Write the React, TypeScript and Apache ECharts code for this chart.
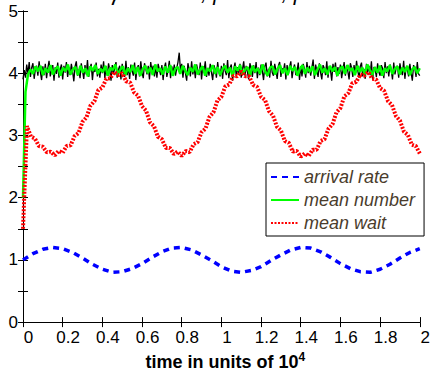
import React, { useEffect, useRef } from "react";
import * as echarts from "echarts";

const T_MAX = 2;

const arrivalRate = [
  1.0, 1.1, 1.17, 1.2, 1.18, 1.12, 1.03, 0.93, 0.85, 0.8,
  0.81, 0.86, 0.94, 1.04, 1.13, 1.19, 1.2, 1.16, 1.08, 0.99,
  0.89, 0.82, 0.8, 0.83, 0.89, 0.99, 1.08, 1.16, 1.2, 1.19,
  1.13, 1.04, 0.94, 0.86, 0.81, 0.8, 0.85, 0.93, 1.03, 1.12,
  1.18,
];

const meanWait = [
  1.5, 3.15, 2.98, 2.95, 2.83, 2.82, 2.73, 2.74, 2.68, 2.75,
  2.72, 2.83, 2.84, 2.99, 3.04, 3.22, 3.29, 3.48, 3.55, 3.73,
  3.77, 3.91, 3.92, 4.02, 3.97, 4.0, 3.87, 3.85, 3.69, 3.64,
  3.47, 3.4, 3.21, 3.15, 2.98, 2.94, 2.8, 2.8, 2.7, 2.74,
  2.67, 2.75, 2.73, 2.86, 2.89, 3.05, 3.11, 3.3, 3.37, 3.56,
  3.62, 3.79, 3.82, 3.96, 3.95, 4.03, 3.95, 3.95, 3.81, 3.78,
  3.62, 3.57, 3.39, 3.32, 3.14, 3.08, 2.91, 2.88, 2.74, 2.75,
  2.66, 2.71, 2.67, 2.77, 2.77, 2.91, 2.94, 3.11, 3.18, 3.37,
  3.44, 3.63, 3.68, 3.84, 3.86, 3.98, 3.96, 4.02, 3.91, 3.9,
  3.76, 3.72, 3.55, 3.49, 3.31, 3.24, 3.06, 3.01, 2.85, 2.83,
  2.71,
];

const meanNumber = [
  2.0, 3.7, 3.98, 4.06, 3.99, 4.11, 4.03, 4.12, 3.97, 4.08, 4.01, 4.13, 3.98, 4.07, 4.11, 3.96,
  4.09, 4.03, 4.14, 3.98, 4.06, 4.1, 3.97, 4.12, 4.01, 4.08, 3.95, 4.11, 4.04, 4.13, 3.99, 4.07,
  4.02, 4.12, 3.96, 4.09, 4.05, 4.14, 3.98, 4.06, 4.11, 3.97, 4.08, 4.02, 4.13, 3.99, 4.1, 3.96,
  4.07, 4.12, 4.0, 4.09, 3.97, 4.14, 4.03, 4.08, 3.98, 4.11, 4.01, 4.13, 3.96, 4.07, 4.1, 3.99,
  4.12, 4.04, 3.97, 4.09, 4.02, 4.14, 3.98, 4.06, 4.11, 3.96, 4.08, 4.03, 4.13, 3.99, 4.1, 3.97,
  4.07, 4.12, 4.01, 4.09, 3.95, 4.11, 4.04, 4.13, 3.98, 4.06, 4.1, 3.97, 4.12, 4.02, 4.08, 3.99,
  4.14, 4.03, 3.96, 4.09, 4.11, 3.98, 4.07, 4.13, 4.0, 4.08, 3.97, 4.12, 4.04, 4.1, 3.96, 4.07,
  4.13, 3.99, 4.09, 4.02, 4.11, 3.97, 4.06, 4.14, 4.01, 4.08, 3.98, 4.12, 4.03, 4.1, 3.96, 4.07,
  4.11, 3.99, 4.13, 4.04, 4.08, 3.97, 4.12, 4.02, 4.09, 3.98, 4.14, 4.05, 3.97, 4.1, 4.01, 4.12,
  3.96, 4.08, 4.03, 4.13, 3.99, 4.07, 4.11, 3.98, 4.09, 4.02, 4.12, 3.97, 4.06, 4.1, 4.0, 4.08,
];

const sampledNumber = [
  3.9, 4.05, 3.93, 4.14, 3.99, 4.18, 3.94, 4.09, 4.16, 3.91, 4.07, 4.12, 3.96, 4.19, 4.02, 3.89,
  4.11, 3.97, 4.15, 3.92, 4.08, 4.2, 3.95, 4.04, 4.13, 3.88, 4.1, 3.99, 4.17, 3.93, 4.06, 4.14,
  3.9, 4.12, 4.01, 4.18, 3.94, 4.09, 3.97, 4.15, 4.03, 3.87, 4.11, 4.19, 3.96, 4.06, 3.92, 4.16,
  4.04, 3.91, 4.13, 3.98, 4.21, 3.94, 4.08, 4.15, 3.89, 4.1, 4.02, 4.17, 3.95, 4.07, 3.93, 4.14,
  4.0, 4.19, 3.92, 4.11, 3.96, 4.16, 4.05, 3.88, 4.13, 3.99, 4.09, 4.18, 3.93, 4.06, 4.12, 3.9,
  4.15, 4.02, 3.94, 4.2, 3.97, 4.1, 3.91, 4.14, 4.04, 3.96, 4.17, 3.89, 4.08, 4.13, 3.95, 4.19,
  4.01, 3.92, 4.16, 4.07, 3.98, 4.12, 3.9, 4.18, 4.03, 4.12, 3.95, 4.1, 3.93, 4.15, 4.06, 3.97,
  4.13, 3.89, 4.09, 4.17, 3.94, 4.05, 4.2, 3.92, 4.11, 3.99, 4.14, 3.96, 4.08, 4.18, 4.33, 4.04,
  4.15, 3.93, 4.12, 4.0, 3.88, 4.16, 4.07, 3.95, 4.19, 3.98, 4.1, 3.92, 4.14, 4.05, 3.97, 4.17,
  3.9, 4.11, 4.03, 4.19, 3.94, 4.08, 3.96, 4.15, 4.01, 3.89, 4.13, 4.06, 3.93, 4.18, 4.02, 3.95,
  4.12, 3.91, 4.16, 4.04, 3.97, 4.21, 3.92, 4.09, 4.14, 3.88, 4.07, 4.17, 3.95, 4.1, 3.99, 4.15,
  3.93, 4.06, 4.19, 3.96, 4.12, 4.02, 3.9, 4.16, 4.08, 3.94, 4.13, 4.0, 4.18, 3.92, 4.09, 3.97,
  4.14, 4.04, 3.89, 4.11, 4.17, 3.95, 4.07, 3.93, 4.2, 4.01, 3.96, 4.15, 4.05, 3.91, 4.12, 4.18,
  3.94, 4.08, 4.02, 4.16, 3.9, 4.13, 3.98, 4.1, 4.19, 3.92, 4.06, 4.14, 3.97, 4.03, 4.17, 3.89,
  4.11, 3.95, 4.15, 4.07, 3.93, 4.18, 4.0, 4.12, 3.96, 4.09, 4.22, 3.91, 4.14, 4.04, 3.94, 4.16,
  4.01, 3.9, 4.13, 4.08, 3.97, 4.19, 3.93, 4.11, 4.05, 3.88, 4.15, 4.02, 4.17, 3.95, 4.1, 3.99,
  4.14, 3.92, 4.06, 4.18, 3.96, 4.12, 4.03, 3.9, 4.16, 4.09, 3.94, 4.13, 3.98, 4.2, 4.04, 3.93,
  4.11, 4.17, 3.95, 4.07, 3.91, 4.15, 4.01, 4.12, 3.97, 4.19, 3.89, 4.1, 4.06, 3.94, 4.16, 4.02,
  3.96, 4.13, 4.08, 3.92, 4.18, 4.0, 4.11, 3.95, 4.14, 4.05, 3.9, 4.17, 3.98, 4.09, 4.12, 3.93,
  4.16, 4.03, 3.97, 4.2, 3.91, 4.1, 4.06, 3.95, 4.15, 4.01, 3.88, 4.13, 4.08, 3.94, 4.18, 3.99,
  3.96,
];

const legendNames = ["arrival rate", "mean number", "mean wait"];
const titleText = "γ = 0.001, β = 0.2, ρ = 0.8";
const xAxisTitle = "time in units of 10{sup|4}";

function toPairs(vals: number[]): number[][] {
  return vals.map((v, i) => [(i * T_MAX) / (vals.length - 1), v]);
}

const FONT = "Liberation Sans";

export default function App() {
  const ref = useRef<HTMLDivElement>(null);
  useEffect(() => {
    if (!ref.current) return;
    const chart = echarts.init(ref.current, undefined, { renderer: "svg" });
    const axisLine = { show: true, lineStyle: { color: "#000", width: 1 } };
    const tick = { show: true, inside: true, length: 5, lineStyle: { color: "#000" } };
    chart.setOption({
      animation: false,
      backgroundColor: "#fff",
      textStyle: { fontFamily: FONT },
      grid: { left: 23, right: 8, top: 11, bottom: 52, containLabel: false },
      graphic: [
        {
          type: "text",
          x: 236,
          y: -19,
          style: {
            text: titleText,
            x: 0,
            y: 0,
            align: "center",
            verticalAlign: "top",
            font: `italic 22px ${FONT}`,
            fill: "#000",
          },
          z: 100,
        },
      ],
      legend: {
        data: legendNames,
        orient: "vertical",
        left: 266,
        top: 163,
        padding: [5, 9, 4, 4],
        itemGap: 5,
        itemWidth: 28,
        itemHeight: 12,
        borderColor: "#000",
        borderWidth: 1,
        backgroundColor: "#fff",
        itemStyle: { opacity: 0 },
        textStyle: {
          fontFamily: FONT,
          fontStyle: "italic",
          fontSize: 18,
          color: "#4a3c2c",
        },
      },
      xAxis: [
        {
          type: "value",
          min: 0,
          max: 2,
          interval: 0.2,
          position: "bottom",
          axisLine,
          axisTick: tick,
          splitLine: { show: false },
          axisLabel: {
            margin: 7,
            fontSize: 17,
            color: "#000",
            fontFamily: FONT,
            padding: [0, 0, 0, 11],
            formatter: (v: number) => String(Math.round(v * 10) / 10),
          },
          name: xAxisTitle,
          nameLocation: "middle",
          nameGap: 28,
          nameTextStyle: {
            fontFamily: FONT,
            fontWeight: "bold",
            fontSize: 18,
            color: "#000",
            padding: [0, 0, 0, 8],
            rich: {
              sup: {
                fontFamily: FONT,
                fontWeight: "bold",
                fontSize: 12,
                verticalAlign: "bottom",
                padding: [0, 0, 10, 0],
                color: "#000",
              },
            },
          },
        },
        {
          type: "value",
          min: 0,
          max: 2,
          interval: 0.2,
          position: "top",
          axisLine,
          axisTick: tick,
          axisLabel: { show: false },
          splitLine: { show: false },
        },
      ],
      yAxis: [
        {
          type: "value",
          min: 0,
          max: 5,
          interval: 0.5,
          position: "left",
          axisLine,
          axisTick: tick,
          splitLine: { show: false },
          axisLabel: {
            margin: 5,
            fontSize: 17,
            color: "#000",
            fontFamily: FONT,
            padding: [6, 0, 0, 0],
            showMinLabel: true,
            showMaxLabel: true,
            formatter: (v: number) =>
              Math.abs(v - Math.round(v)) < 1e-6 ? String(Math.round(v)) : "",
          },
        },
        {
          type: "value",
          min: 0,
          max: 5,
          interval: 0.5,
          position: "right",
          axisLine,
          axisTick: tick,
          axisLabel: { show: false },
          splitLine: { show: false },
        },
      ],
      series: [
        {
          name: "sample",
          type: "line",
          data: toPairs(sampledNumber),
          symbol: "none",
          showSymbol: false,
          lineStyle: { color: "#000", width: 1.3 },
          itemStyle: { color: "#000" },
          z: 2,
        },
        {
          name: "mean number",
          type: "line",
          data: toPairs(meanNumber),
          symbol: "none",
          showSymbol: false,
          lineStyle: { color: "#00ff00", width: 2.5 },
          itemStyle: { color: "#00ff00" },
          z: 3,
        },
        {
          name: "mean wait",
          type: "line",
          data: toPairs(meanWait),
          symbol: "none",
          showSymbol: false,
          lineStyle: { color: "#ff0000", width: 4, type: [2, 1.5] },
          itemStyle: { color: "#ff0000" },
          z: 4,
        },
        {
          name: "arrival rate",
          type: "line",
          data: toPairs(arrivalRate),
          symbol: "none",
          showSymbol: false,
          lineStyle: { color: "#0000ff", width: 3.5, type: [6, 5] },
          itemStyle: { color: "#0000ff" },
          z: 5,
        },
      ],
    });
    return () => chart.dispose();
  }, []);
  return (
    <div
      ref={ref}
      style={{ position: "fixed", left: 0, top: 0, width: 433, height: 376 }}
    />
  );
}
